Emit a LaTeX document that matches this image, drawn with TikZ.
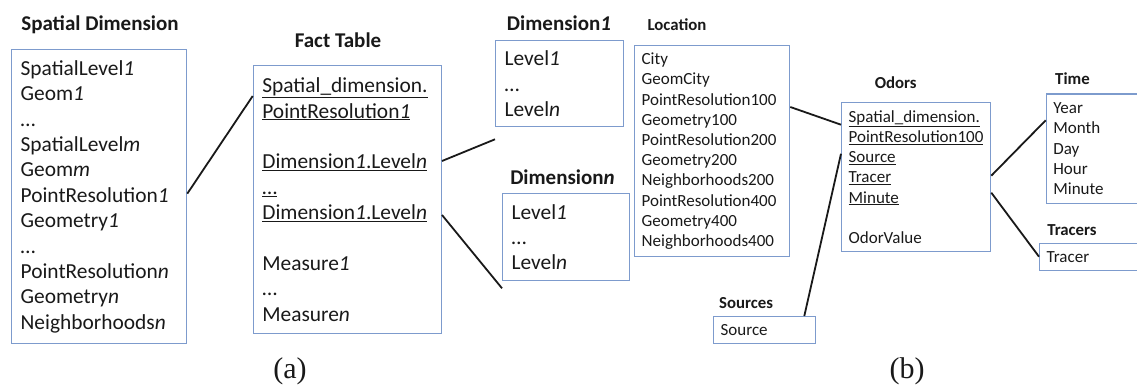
\documentclass[tikz,border=0pt]{standalone}
\usepackage{fontspec}
\setmainfont{Carlito}
\newfontfamily\capfont{Liberation Serif}
\usetikzlibrary{calc}
\definecolor{boxblue}{RGB}{125,155,205}
\definecolor{inkc}{RGB}{25,25,25}
\begin{document}
\begin{tikzpicture}[x=1pt,y=-1pt,
  tbl/.style={draw=boxblue, line width=1.3pt, anchor=north west, align=left, inner ysep=0pt, text=inkc},
  bigtxt/.style={font=\fontsize{21.4}{25.4}\selectfont, inner xsep=9pt},
  smalltxt/.style={font=\fontsize{17}{20.2}\selectfont, inner xsep=7pt},
  ttl/.style={font=\bfseries\fontsize{21}{25}\selectfont, inner sep=0pt, text=inkc},
  sttl/.style={font=\bfseries\fontsize{16.8}{20}\selectfont, inner sep=0pt, text=inkc},
  subcap/.style={font=\capfont\fontsize{30}{30}\selectfont, inner sep=0pt, text=inkc},
  link/.style={line width=1.8pt, draw=inkc}]
\useasboundingbox (0,0) rectangle (1137,385);

% ---------- (a) ----------
\node[ttl] (sdt) at (100,25) {Spatial Dimension};
\node[tbl,bigtxt,text width=157pt,minimum height=294pt] (sd) at (11,49)
  {SpatialLevel\textit{1}\\Geom\textit{1}\\…\\SpatialLevel\textit{m}\\Geom\textit{m}\\PointResolution\textit{1}\\Geometry\textit{1}\\…\\PointResolution\textit{n}\\Geometry\textit{n}\\Neighborhoods\textit{n}};

\node[ttl] (ftt) at (338,40) {Fact Table};
\node[tbl,bigtxt,text width=170pt,minimum height=268pt] (ft) at (252.7,65)
  {\underline{Spatial\_dimension.}\\\underline{PointResolution\textit{1}}\\\strut\\\underline{Dimension\textit{1}.Level\textit{n}}\\\underline{…}\\\underline{Dimension\textit{1}.Level\textit{n}}\\\strut\\Measure\textit{1}\\…\\Measure\textit{n}};

\node[ttl] (d1t) at (559,23) {Dimension\textit{1}};
\node[tbl,bigtxt,text width=110pt,minimum height=86pt] (d1) at (495,40)
  {Level\textit{1}\\…\\Level\textit{n}};

\node[ttl] (dnt) at (562.5,177) {Dimension\textit{n}};
\node[tbl,bigtxt,text width=109pt,minimum height=87pt] (dn) at (502,193)
  {Level\textit{1}\\…\\Level\textit{n}};

\coordinate (e1) at ([yshift=-12pt]d1.south west);
\coordinate (e2) at ([yshift=-7pt]dn.south west);

\draw[link] ([yshift=3pt]sd.east) -- ([yshift=-31pt]ft.north west);
\draw[link] ([yshift=-96pt]ft.north east) -- (e1);
\draw[link] ([yshift=-150pt]ft.north east) -- (e2);

\node[subcap] (ca) at (290,371) {(a)};

% ---------- (b) ----------
\node[sttl] (loct) at (677,25) {Location};
\node[tbl,smalltxt,text width=141pt,minimum height=211pt] (loc) at (634,45)
  {City\\GeomCity\\PointResolution100\\Geometry100\\PointResolution200\\Geometry200\\Neighborhoods200\\PointResolution400\\Geometry400\\Neighborhoods400};

\node[sttl] (srct) at (746,303) {Sources};
\node[tbl,smalltxt,text width=88pt,minimum height=27pt] (src) at (713,316) {Source};

\node[sttl] (odt) at (895.7,82.7) {Odors};
\node[tbl,smalltxt,text width=135pt,minimum height=149.3pt] (od) at (841,101.7)
  {\underline{Spatial\_dimension.}\\\underline{PointResolution100}\\\underline{Source}\\\underline{Tracer}\\\underline{Minute}\\\strut\\OdorValue};

\node[sttl] (tmt) at (1072.5,79) {Time};
\node[tbl,smalltxt,text width=90pt,minimum height=109.4pt] (tm) at (1045.7,93.3)
  {Year\\Month\\Day\\Hour\\Minute};

\node[sttl] (trt) at (1072,230) {Tracers};
\node[tbl,smalltxt,text width=97pt,minimum height=27.3pt] (tr) at (1039,242.7) {Tracer};

\draw[link] ([yshift=-62pt]loc.north east) -- ([yshift=-23pt]od.north west);
\draw[link] ([xshift=-12pt]src.north east) -- ([yshift=-52pt]od.north west);
\draw[link] ([yshift=-74pt]od.north east) -- ([yshift=-27pt]tm.north west);
\draw[link] ([yshift=-91pt]od.north east) -- ([yshift=-14pt]tr.north west);

\node[subcap] (cb) at (907,371) {(b)};
\end{tikzpicture}
\end{document}
